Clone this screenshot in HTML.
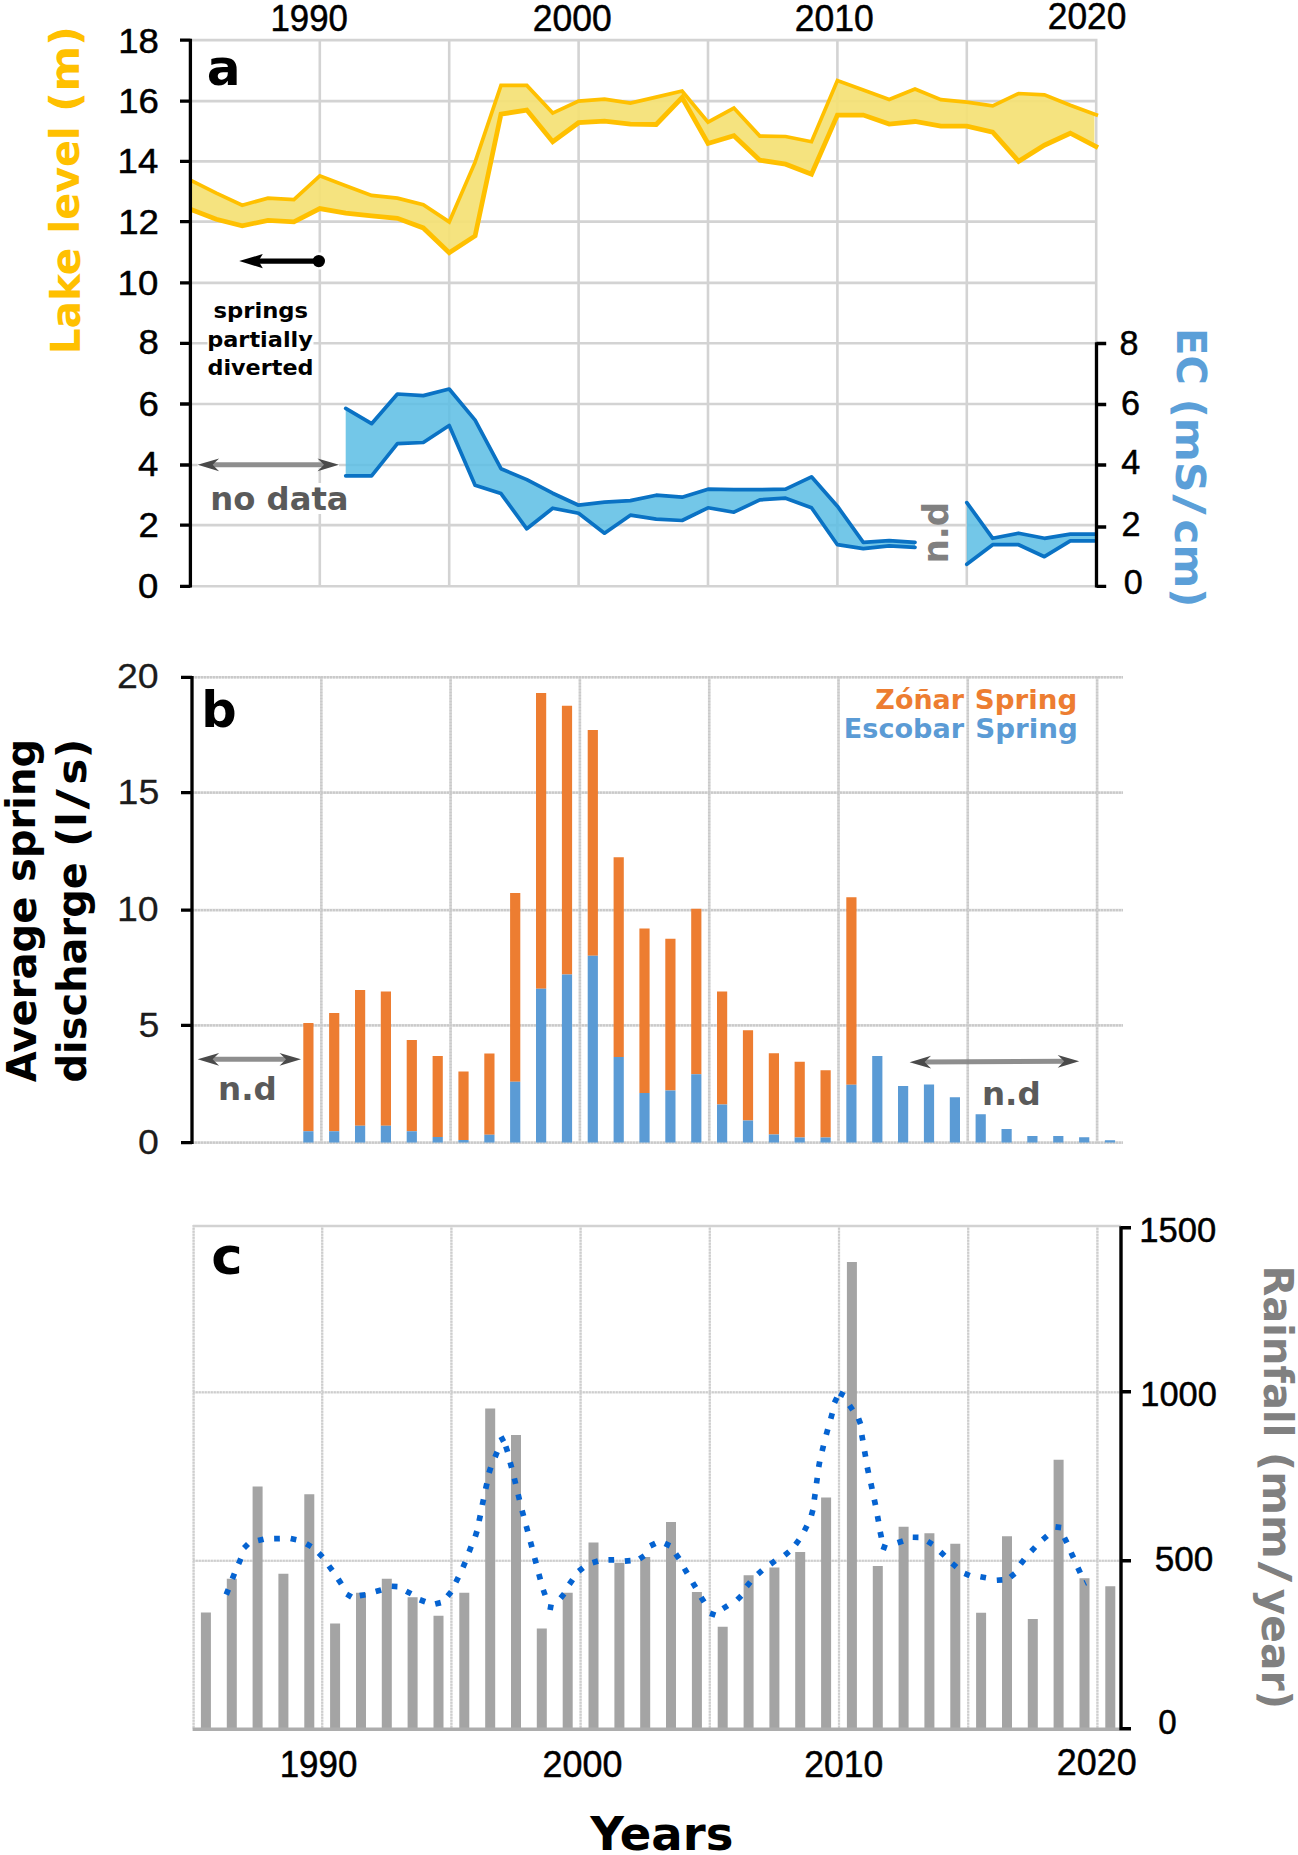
<!DOCTYPE html>
<html lang="en">
<head>
<meta charset="utf-8">
<title>Lake level, EC, spring discharge and rainfall 1985-2020</title>
<style>
html,body{margin:0;padding:0;background:#fff;}
body{width:1298px;height:1855px;overflow:hidden;}
svg{display:block;}
text{white-space:pre;}
</style>
</head>
<body>
<svg width="1298" height="1855" viewBox="0 0 1298 1855" role="img" aria-label="Lake level, electrical conductivity, spring discharge and rainfall, 1985-2020">
<rect width="1298" height="1855" fill="#fff"/>
<g id="panelA">
<path d="M190 586.3 H1097.5 M190 525.1 H1097.5 M190 465 H1097.5 M190 404 H1097.5 M190 343.3 H1097.5 M190 282.9 H1097.5 M190 221.6 H1097.5 M190 161.4 H1097.5 M190 101.1 H1097.5 M190 40.1 H1097.5 M319.8 39 V587 M449.2 39 V587 M578.6 39 V587 M708 39 V587 M837.4 39 V587 M966.8 39 V587 M1096.2 39 V587" stroke="#d3d3d3" stroke-width="2.6" fill="none"/>
<polygon points="190.4,180.2 216.3,193.2 242.2,205.2 268,198.2 293.9,199.6 319.8,175.8 345.7,185.8 371.6,195.4 397.4,198.2 423.3,204.8 449.2,221.9 475.1,162.2 501,85.4 526.8,85.4 552.7,113.1 578.6,101.1 604.5,99.1 630.4,103.1 656.2,97.1 682.1,91 708,122.1 733.9,108.1 759.8,136.1 785.6,136.5 811.5,141.7 837.4,80.6 863.3,90 889.2,99.5 915,89.1 940.9,99.6 966.8,102.2 992.7,105.8 1018.6,93.5 1044.4,94.8 1070.3,105.2 1094.4,114.1 1094.4,145.9 1070.3,133.2 1044.4,145.2 1018.6,161.3 992.7,132.2 966.8,126.2 940.9,126.2 915,121.5 889.2,124.1 863.3,115.1 837.4,115.1 811.5,174.2 785.6,164.2 759.8,160.2 733.9,135.7 708,143.5 682.1,97.5 656.2,124.5 630.4,124.1 604.5,121.1 578.6,122.7 552.7,141.7 526.8,110.1 501,114.1 475.1,235.9 449.2,252.7 423.3,227.9 397.4,218.3 371.6,215.9 345.7,213.2 319.8,208.6 293.9,221.9 268,220.3 242.2,225.9 216.3,219.3 190.4,209.2" fill="#f4e174" fill-opacity="0.92"/>
<polyline points="190.4,180.2 216.3,193.2 242.2,205.2 268,198.2 293.9,199.6 319.8,175.8 345.7,185.8 371.6,195.4 397.4,198.2 423.3,204.8 449.2,221.9 475.1,162.2 501,85.4 526.8,85.4 552.7,113.1 578.6,101.1 604.5,99.1 630.4,103.1 656.2,97.1 682.1,91 708,122.1 733.9,108.1 759.8,136.1 785.6,136.5 811.5,141.7 837.4,80.6 863.3,90 889.2,99.5 915,89.1 940.9,99.6 966.8,102.2 992.7,105.8 1018.6,93.5 1044.4,94.8 1070.3,105.2 1098,115.5" fill="none" stroke="#ffc000" stroke-width="3.7" stroke-linejoin="miter" stroke-linecap="butt"/>
<polyline points="190.4,209.2 216.3,219.3 242.2,225.9 268,220.3 293.9,221.9 319.8,208.6 345.7,213.2 371.6,215.9 397.4,218.3 423.3,227.9 449.2,252.7 475.1,235.9 501,114.1 526.8,110.1 552.7,141.7 578.6,122.7 604.5,121.1 630.4,124.1 656.2,124.5 682.1,97.5 708,143.5 733.9,135.7 759.8,160.2 785.6,164.2 811.5,174.2 837.4,115.1 863.3,115.1 889.2,124.1 915,121.5 940.9,126.2 966.8,126.2 992.7,132.2 1018.6,161.3 1044.4,145.2 1070.3,133.2 1098,147.7" fill="none" stroke="#ffc000" stroke-width="4.8" stroke-linejoin="miter" stroke-linecap="butt"/>
<polygon points="345.7,408.4 371.6,423.7 397.4,394 423.3,395.6 449.2,389 475.1,420.1 501,468.7 526.8,479.6 552.7,493.2 578.6,505.2 604.5,502.2 630.4,500.6 656.2,495.2 682.1,497.2 708,489.2 733.9,489.6 759.8,489.6 785.6,489.2 811.5,476.8 837.4,506.2 863.3,542.3 889.2,540.7 915,542.3 915,547.3 889.2,545.9 863.3,548.7 837.4,544.7 811.5,507.8 785.6,498.2 759.8,499.8 733.9,512.2 708,507.8 682.1,520.5 656.2,519.2 630.4,515.2 604.5,533.2 578.6,513.2 552.7,508.2 526.8,528.8 501,493.6 475.1,485.2 449.2,425.5 423.3,442.5 397.4,443.7 371.6,475.8 345.7,475.8" fill="#5bbde4" fill-opacity="0.85"/>
<polyline points="345.7,408.4 371.6,423.7 397.4,394 423.3,395.6 449.2,389 475.1,420.1 501,468.7 526.8,479.6 552.7,493.2 578.6,505.2 604.5,502.2 630.4,500.6 656.2,495.2 682.1,497.2 708,489.2 733.9,489.6 759.8,489.6 785.6,489.2 811.5,476.8 837.4,506.2 863.3,542.3 889.2,540.7 915,542.3" fill="none" stroke="#0a72c4" stroke-width="3.7" stroke-linejoin="round" stroke-linecap="round"/>
<polyline points="345.7,475.8 371.6,475.8 397.4,443.7 423.3,442.5 449.2,425.5 475.1,485.2 501,493.6 526.8,528.8 552.7,508.2 578.6,513.2 604.5,533.2 630.4,515.2 656.2,519.2 682.1,520.5 708,507.8 733.9,512.2 759.8,499.8 785.6,498.2 811.5,507.8 837.4,544.7 863.3,548.7 889.2,545.9 915,547.3" fill="none" stroke="#0a72c4" stroke-width="3.7" stroke-linejoin="round" stroke-linecap="round"/>
<polygon points="966.8,502.6 992.7,538.3 1018.6,533.2 1044.4,538.3 1070.3,534.2 1096.2,534.2 1096.2,540.9 1070.3,540.9 1044.4,556.7 1018.6,544.7 992.7,544.7 966.8,564.3" fill="#5bbde4" fill-opacity="0.85"/>
<polyline points="966.8,502.6 992.7,538.3 1018.6,533.2 1044.4,538.3 1070.3,534.2 1096.2,534.2" fill="none" stroke="#0a72c4" stroke-width="3.7" stroke-linejoin="round" stroke-linecap="round"/>
<polyline points="966.8,564.3 992.7,544.7 1018.6,544.7 1044.4,556.7 1070.3,540.9 1096.2,540.9" fill="none" stroke="#0a72c4" stroke-width="3.7" stroke-linejoin="round" stroke-linecap="round"/>
<path d="M190.4 38.7 V587.6 M180 586.3 H190.4 M180 525.1 H190.4 M180 465 H190.4 M180 404 H190.4 M180 343.3 H190.4 M180 282.9 H190.4 M180 221.6 H190.4 M180 161.4 H190.4 M180 101.1 H190.4 M180 40.1 H190.4" stroke="#000" stroke-width="3.3" fill="none"/>
<path d="M1096.5 342.2 V587.6 M1096.5 343.5 H1106.2 M1096.5 404.5 H1106.2 M1096.5 465 H1106.2 M1096.5 527 H1106.2 M1096.5 586.3 H1106.2" stroke="#000" stroke-width="3.3" fill="none"/>
<rect x="207.5" y="340" width="106" height="7" fill="#fff"/>
<rect x="315" y="252.5" width="10" height="17" fill="#fff"/>
<path d="M318.5 261.1 H254" stroke="#000" stroke-width="5.2" fill="none"/>
<circle cx="318.8" cy="261.1" r="6.2" fill="#000"/>
<path d="M239.2 261.1 L262.8 254 L258.5 261.1 L262.8 268.2 Z" fill="#000"/>
<rect x="197.6" y="461.8" width="141.4" height="6" fill="#fff"/>
<g transform="rotate(0 268.3 464.8)">
<path d="M210.6 464.8 H326" stroke="#858585" stroke-width="5.0" stroke-opacity="0.93" fill="none"/>
<path d="M197.6 464.8 L219.1 458.4 L212.6 464.8 L219.1 471.2 Z" fill="#4a4a4a"/>
<path d="M339 464.8 L317.5 458.4 L324 464.8 L317.5 471.2 Z" fill="#4a4a4a"/>
</g>
<rect x="206" y="483" width="145" height="31" fill="#fff"/>
</g>
<g id="panelB">
<path d="M192 1142.6 H1123 M192 1025.4 H1123 M192 910.1 H1123 M192 792.6 H1123 M192 677.3 H1123 M321.3 676.5 V1143.5 M450.6 676.5 V1143.5 M579.9 676.5 V1143.5 M709.2 676.5 V1143.5 M838.5 676.5 V1143.5 M967.8 676.5 V1143.5 M1097.1 676.5 V1143.5" stroke="#dedede" stroke-width="2.6" fill="none"/>
<path d="M192 1142.6 H1123 M192 1025.4 H1123 M192 910.1 H1123 M192 792.6 H1123 M192 677.3 H1123 M321.3 676.5 V1143.5 M450.6 676.5 V1143.5 M579.9 676.5 V1143.5 M709.2 676.5 V1143.5 M838.5 676.5 V1143.5 M967.8 676.5 V1143.5 M1097.1 676.5 V1143.5" stroke="#c9c9c9" stroke-width="2.4" stroke-dasharray="1.9 1.1" fill="none"/>
<path d="M303.3 1023.1 h10.2 V1131.3 h-10.2 Z M329.1 1013.1 h10.2 V1131.3 h-10.2 Z M355 990 h10.2 V1125.7 h-10.2 Z M380.8 991.5 h10.2 V1125.7 h-10.2 Z M406.7 1040.1 h10.2 V1131.3 h-10.2 Z M432.6 1056.1 h10.2 V1137 h-10.2 Z M458.4 1071.4 h10.2 V1140.1 h-10.2 Z M484.3 1053.4 h10.2 V1134.7 h-10.2 Z M510.1 893.1 h10.2 V1081.7 h-10.2 Z M536 692.9 h10.2 V988.7 h-10.2 Z M561.9 705.8 h10.2 V974.4 h-10.2 Z M587.7 730 h10.2 V955.8 h-10.2 Z M613.6 857.2 h10.2 V1056.9 h-10.2 Z M639.4 928.6 h10.2 V1093 h-10.2 Z M665.3 938.8 h10.2 V1090.4 h-10.2 Z M691.2 908.7 h10.2 V1074.3 h-10.2 Z M717 991.6 h10.2 V1104.4 h-10.2 Z M742.9 1030.3 h10.2 V1120.4 h-10.2 Z M768.8 1053.3 h10.2 V1134.4 h-10.2 Z M794.6 1061.7 h10.2 V1137.4 h-10.2 Z M820.5 1070.3 h10.2 V1137.4 h-10.2 Z M846.3 897.3 h10.2 V1084.8 h-10.2 Z" fill="#ed7d31"/>
<path d="M303.3 1131.3 h10.2 V1142.6 h-10.2 Z M329.1 1131.3 h10.2 V1142.6 h-10.2 Z M355 1125.7 h10.2 V1142.6 h-10.2 Z M380.8 1125.7 h10.2 V1142.6 h-10.2 Z M406.7 1131.3 h10.2 V1142.6 h-10.2 Z M432.6 1137 h10.2 V1142.6 h-10.2 Z M458.4 1140.1 h10.2 V1142.6 h-10.2 Z M484.3 1134.7 h10.2 V1142.6 h-10.2 Z M510.1 1081.7 h10.2 V1142.6 h-10.2 Z M536 988.7 h10.2 V1142.6 h-10.2 Z M561.9 974.4 h10.2 V1142.6 h-10.2 Z M587.7 955.8 h10.2 V1142.6 h-10.2 Z M613.6 1056.9 h10.2 V1142.6 h-10.2 Z M639.4 1093 h10.2 V1142.6 h-10.2 Z M665.3 1090.4 h10.2 V1142.6 h-10.2 Z M691.2 1074.3 h10.2 V1142.6 h-10.2 Z M717 1104.4 h10.2 V1142.6 h-10.2 Z M742.9 1120.4 h10.2 V1142.6 h-10.2 Z M768.8 1134.4 h10.2 V1142.6 h-10.2 Z M794.6 1137.4 h10.2 V1142.6 h-10.2 Z M820.5 1137.4 h10.2 V1142.6 h-10.2 Z M846.3 1084.8 h10.2 V1142.6 h-10.2 Z M872.2 1055.9 h10.2 V1142.6 h-10.2 Z M898 1086 h10.2 V1142.6 h-10.2 Z M923.9 1084.4 h10.2 V1142.6 h-10.2 Z M949.8 1097.2 h10.2 V1142.6 h-10.2 Z M975.6 1114.2 h10.2 V1142.6 h-10.2 Z M1001.5 1128.9 h10.2 V1142.6 h-10.2 Z M1027.3 1135.9 h10.2 V1142.6 h-10.2 Z M1053.2 1135.9 h10.2 V1142.6 h-10.2 Z M1079.1 1137.3 h10.2 V1142.6 h-10.2 Z M1104.9 1140.3 h10.2 V1142.6 h-10.2 Z" fill="#5b9bd5"/>
<path d="M192 676 V1144 M181 1142.6 H192 M181 1025.4 H192 M181 910.1 H192 M181 792.6 H192 M181 677.3 H192" stroke="#000" stroke-width="3.3" fill="none"/>
<g transform="rotate(0 249.3 1059.3)">
<path d="M210.6 1059.3 H288" stroke="#858585" stroke-width="5.0" stroke-opacity="0.93" fill="none"/>
<path d="M197.6 1059.3 L219.1 1052.9 L212.6 1059.3 L219.1 1065.7 Z" fill="#4a4a4a"/>
<path d="M301 1059.3 L279.5 1052.9 L286 1059.3 L279.5 1065.7 Z" fill="#4a4a4a"/>
</g>
<g transform="rotate(-0.338 994.4 1061.7)">
<path d="M922.6 1061.7 H1066.2" stroke="#858585" stroke-width="5.0" stroke-opacity="0.93" fill="none"/>
<path d="M909.6 1061.7 L931.1 1055.3 L924.6 1061.7 L931.1 1068.1 Z" fill="#4a4a4a"/>
<path d="M1079.2 1061.7 L1057.7 1055.3 L1064.2 1061.7 L1057.7 1068.1 Z" fill="#4a4a4a"/>
</g>
</g>
<g id="panelC">
<path d="M193 1560.8 H1121 M193 1392.3 H1121 M193.6 1225 V1729 M322.2 1225 V1729 M451.4 1225 V1729 M580.6 1225 V1729 M709.8 1225 V1729 M839 1225 V1729 M968.2 1225 V1729 M1097.4 1225 V1729" stroke="#e4e4e4" stroke-width="2.3" fill="none"/>
<path d="M193 1560.8 H1121 M193 1392.3 H1121 M193.6 1225 V1729 M322.2 1225 V1729 M451.4 1225 V1729 M580.6 1225 V1729 M709.8 1225 V1729 M839 1225 V1729 M968.2 1225 V1729 M1097.4 1225 V1729" stroke="#cdcdcd" stroke-width="2.1" stroke-dasharray="1.8 1.2" fill="none"/>
<path d="M193 1226 H1121" stroke="#d2d2d2" stroke-width="2.5" fill="none"/>
<path d="M200.9 1612.6 h10 V1728.8 h-10 Z M226.8 1578.7 h10 V1728.8 h-10 Z M252.6 1486.5 h10 V1728.8 h-10 Z M278.4 1573.8 h10 V1728.8 h-10 Z M304.3 1494.3 h10 V1728.8 h-10 Z M330.1 1623.5 h10 V1728.8 h-10 Z M356 1592.7 h10 V1728.8 h-10 Z M381.8 1578.7 h10 V1728.8 h-10 Z M407.6 1597.3 h10 V1728.8 h-10 Z M433.5 1615.8 h10 V1728.8 h-10 Z M459.3 1592.7 h10 V1728.8 h-10 Z M485.2 1408.6 h10 V1728.8 h-10 Z M511 1435.1 h10 V1728.8 h-10 Z M536.8 1628.4 h10 V1728.8 h-10 Z M562.7 1592.7 h10 V1728.8 h-10 Z M588.5 1542.6 h10 V1728.8 h-10 Z M614.4 1562.7 h10 V1728.8 h-10 Z M640.2 1556.9 h10 V1728.8 h-10 Z M666 1522.1 h10 V1728.8 h-10 Z M691.9 1592.1 h10 V1728.8 h-10 Z M717.7 1626.8 h10 V1728.8 h-10 Z M743.6 1575.3 h10 V1728.8 h-10 Z M769.4 1567.4 h10 V1728.8 h-10 Z M795.2 1552 h10 V1728.8 h-10 Z M821.1 1497.4 h10 V1728.8 h-10 Z M846.9 1262 h10 V1728.8 h-10 Z M872.8 1566 h10 V1728.8 h-10 Z M898.6 1526.7 h10 V1728.8 h-10 Z M924.4 1533.2 h10 V1728.8 h-10 Z M950.3 1543.8 h10 V1728.8 h-10 Z M976.1 1612.7 h10 V1728.8 h-10 Z M1002 1536.2 h10 V1728.8 h-10 Z M1027.8 1619 h10 V1728.8 h-10 Z M1053.6 1459.7 h10 V1728.8 h-10 Z M1079.5 1578.3 h10 V1728.8 h-10 Z M1105.3 1586.3 h10 V1728.8 h-10 Z" fill="#a4a4a4"/>
<path d="M192.6 1729.3 H1121" stroke="#adadad" stroke-width="3.6" fill="none"/>
<path d="M223.6 1593.6 L225.7 1588.3 L231 1590.4 L228.9 1595.7 Z M229.7 1577.8 L231.8 1572.5 L237.1 1574.6 L235 1579.9 Z M236 1562.7 L238.2 1557.5 L243.4 1559.7 L241.2 1564.9 Z M242 1545.9 L246 1541.9 L250 1545.9 L246 1549.9 Z M257.4 1537.8 L262.9 1536.5 L264.2 1542 L258.7 1543.3 Z M274.1 1535.8 L279.8 1535.7 L279.9 1541.4 L274.2 1541.5 Z M291.3 1535.7 L296.9 1536.9 L295.7 1542.5 L290.1 1541.3 Z M307.8 1541.3 L312.7 1544.2 L309.8 1549.1 L304.9 1546.2 Z M320.8 1551.1 L324.7 1555.2 L320.6 1559.1 L316.7 1555 Z M331.2 1564.2 L334.6 1568.8 L330 1572.2 L326.6 1567.6 Z M340.6 1577.6 L343.8 1582.4 L339 1585.6 L335.8 1580.8 Z M348.1 1591.7 L353 1594.6 L350.1 1599.5 L345.2 1596.6 Z M359.3 1592.8 L365 1591.9 L365.9 1597.6 L360.2 1598.5 Z M374.9 1588.8 L380.4 1587.3 L381.9 1592.8 L376.4 1594.3 Z M391.9 1583.4 L397.6 1583.7 L397.3 1589.4 L391.6 1589.1 Z M407.5 1588.7 L412.5 1591.3 L409.9 1596.3 L404.9 1593.7 Z M420.8 1597 L426.2 1599 L424.2 1604.4 L418.8 1602.4 Z M434.5 1601.2 L440.1 1599.8 L441.5 1605.4 L435.9 1606.8 Z M445.4 1594.3 L449 1589.9 L453.4 1593.5 L449.8 1597.9 Z M453.3 1581 L455.8 1575.9 L460.9 1578.4 L458.4 1583.5 Z M460.4 1566.2 L462.6 1561 L467.8 1563.2 L465.6 1568.4 Z M466.4 1550.8 L468.5 1545.5 L473.8 1547.6 L471.7 1552.9 Z M472.5 1535.7 L474.2 1530.2 L479.7 1531.9 L478 1537.4 Z M476.3 1520.4 L477.5 1514.8 L483.1 1516 L481.9 1521.6 Z M479.5 1504.4 L480.7 1498.8 L486.3 1500 L485.1 1505.6 Z M482.9 1488.3 L484.1 1482.7 L489.7 1483.9 L488.5 1489.5 Z M486.3 1472 L488 1466.5 L493.5 1468.2 L491.8 1473.7 Z M492.4 1456.1 L494.5 1450.8 L499.8 1452.9 L497.7 1458.2 Z M498.5 1437.9 L503.5 1435.3 L506.1 1440.3 L501.1 1442.9 Z M508.5 1445.5 L510.3 1450.9 L504.9 1452.7 L503.1 1447.3 Z M512.9 1461.6 L514.4 1467.1 L508.9 1468.6 L507.4 1463.1 Z M517.1 1477.7 L518.4 1483.2 L512.9 1484.5 L511.6 1479 Z M520.9 1493.8 L522.2 1499.3 L516.7 1500.6 L515.4 1495.1 Z M524.8 1509.7 L526.3 1515.2 L520.8 1516.7 L519.3 1511.2 Z M529 1525.3 L530.5 1530.8 L525 1532.3 L523.5 1526.8 Z M533.2 1541.1 L534.7 1546.6 L529.2 1548.1 L527.7 1542.6 Z M537.4 1557.2 L538.9 1562.7 L533.4 1564.2 L531.9 1558.7 Z M541.6 1573.2 L543.1 1578.7 L537.6 1580.2 L536.1 1574.7 Z M545.9 1588.9 L547.8 1594.2 L542.5 1596.1 L540.6 1590.8 Z M548.3 1604 L553.9 1605 L552.9 1610.6 L547.3 1609.6 Z M558.4 1596.3 L562 1591.9 L566.4 1595.5 L562.8 1599.9 Z M567 1582.6 L570.3 1577.9 L575 1581.2 L571.7 1585.9 Z M576.9 1569.1 L581.3 1565.5 L584.9 1569.9 L580.5 1573.5 Z M591.7 1560 L597.2 1558.3 L598.9 1563.8 L593.4 1565.5 Z M608.4 1557.1 L614.1 1557 L614.2 1562.7 L608.5 1562.8 Z M624.6 1558.3 L630.3 1557.8 L630.8 1563.5 L625.1 1564 Z M638 1556.5 L642.7 1553.4 L645.8 1558.1 L641.1 1561.2 Z M649 1543.3 L654.1 1540.8 L656.6 1545.9 L651.5 1548.4 Z M666 1540.8 L671.2 1543.2 L668.8 1548.4 L663.6 1546 Z M678.1 1552.2 L681.4 1556.9 L676.7 1560.2 L673.4 1555.5 Z M686.8 1566.9 L689.7 1571.8 L684.8 1574.7 L681.9 1569.8 Z M695.2 1581.2 L698.1 1586.1 L693.2 1589 L690.3 1584.1 Z M703.5 1595.8 L706.5 1600.6 L701.7 1603.6 L698.7 1598.8 Z M710.9 1610.6 L716.3 1612.4 L714.5 1617.8 L709.1 1616 Z M721.4 1606.3 L726.2 1603.3 L729.2 1608.1 L724.4 1611.1 Z M735.3 1597.7 L739.3 1593.7 L743.3 1597.7 L739.3 1601.7 Z M744.5 1584.6 L748.1 1580.2 L752.5 1583.8 L748.9 1588.2 Z M756 1572 L760.2 1568.2 L764 1572.4 L759.8 1576.2 Z M768.9 1561.7 L773.6 1558.4 L776.9 1563.1 L772.2 1566.4 Z M782.9 1553 L787.3 1549.4 L790.9 1553.8 L786.5 1557.4 Z M793.3 1542.8 L796.7 1538.2 L801.3 1541.6 L797.9 1546.2 Z M801.9 1529.5 L804.4 1524.4 L809.5 1526.9 L807 1532 Z M808.6 1514.8 L810.1 1509.3 L815.6 1510.8 L814.1 1516.3 Z M811.5 1499.2 L812.3 1493.6 L817.9 1494.4 L817.1 1500 Z M813.7 1483 L814.5 1477.4 L820.1 1478.2 L819.3 1483.8 Z M815.9 1466.6 L816.9 1461 L822.5 1462 L821.5 1467.6 Z M819.4 1450.5 L820.7 1445 L826.2 1446.3 L824.9 1451.8 Z M823.5 1434.1 L825 1428.6 L830.5 1430.1 L829 1435.6 Z M828 1418.1 L829.5 1412.6 L835 1414.1 L833.5 1419.6 Z M831.9 1401.6 L834.3 1396.4 L839.5 1398.8 L837.1 1404 Z M840.5 1390.5 L845.6 1393 L843.1 1398.1 L838 1395.6 Z M851.9 1403.8 L855 1408.5 L850.3 1411.6 L847.2 1406.9 Z M861.2 1417.5 L863.2 1422.9 L857.8 1424.9 L855.8 1419.5 Z M864.6 1434.4 L865.6 1440 L860 1441 L859 1435.4 Z M867.4 1450.7 L868.4 1456.3 L862.8 1457.3 L861.8 1451.7 Z M870.1 1466.8 L871.3 1472.4 L865.7 1473.6 L864.5 1468 Z M873.7 1482.8 L874.9 1488.4 L869.3 1489.6 L868.1 1484 Z M877.1 1499 L878.3 1504.6 L872.7 1505.8 L871.5 1500.2 Z M880.3 1515.4 L881.3 1521 L875.7 1522 L874.7 1516.4 Z M883 1531.3 L884.2 1536.9 L878.6 1538.1 L877.4 1532.5 Z M882.5 1543.6 L887.9 1545.6 L885.9 1551 L880.5 1549 Z M896.7 1539.9 L902.2 1538.2 L903.9 1543.7 L898.4 1545.4 Z M912.8 1534.4 L918.5 1534.5 L918.4 1540.2 L912.7 1540.1 Z M929.2 1538.9 L934 1541.9 L931 1546.7 L926.2 1543.7 Z M942.4 1549.8 L946.5 1553.7 L942.6 1557.8 L938.5 1553.9 Z M954 1561.3 L958.3 1565 L954.6 1569.3 L950.3 1565.6 Z M965.6 1570.8 L970.8 1573 L968.6 1578.2 L963.4 1576 Z M980.9 1574 L986.5 1575 L985.5 1580.6 L979.9 1579.6 Z M996.6 1577.5 L1002.2 1577.1 L1002.6 1582.7 L997 1583.1 Z M1008.6 1574.9 L1013 1571.3 L1016.6 1575.7 L1012.2 1579.3 Z M1018.4 1562.2 L1021.9 1557.7 L1026.4 1561.2 L1022.9 1565.7 Z M1029.2 1549.3 L1033.1 1545.2 L1037.2 1549.1 L1033.3 1553.2 Z M1040.9 1537.5 L1045.2 1533.8 L1048.9 1538.1 L1044.6 1541.8 Z M1055.8 1524 L1061.5 1524.7 L1060.8 1530.4 L1055.1 1529.7 Z M1067 1536.4 L1069.5 1541.5 L1064.4 1544 L1061.9 1538.9 Z M1073.7 1551.4 L1076.1 1556.6 L1070.9 1559 L1068.5 1553.8 Z M1080.5 1566.5 L1082.9 1571.7 L1077.7 1574.1 L1075.3 1568.9 Z M1084.6 1580.1 L1087.1 1585.2 L1086 1585.7 L1083.5 1580.6 Z" fill="#0563d1"/>
<path d="M1121 1226.3 V1730.3 M1121 1227.8 H1131 M1121 1391.7 H1131 M1121 1560.8 H1131 M1121 1728.8 H1131" stroke="#000" stroke-width="3.4" fill="none"/>
</g>
<g id="labels">
<text transform="translate(137.89 598) scale(1.03 1)" font-family='"Liberation Sans","DejaVu Sans",sans-serif' font-size="35.48" stroke="#000" stroke-width="0.5" stroke-linejoin="round">0</text>
<text transform="translate(138.46 536.8) scale(1.03 1)" font-family='"Liberation Sans","DejaVu Sans",sans-serif' font-size="35.48" stroke="#000" stroke-width="0.5" stroke-linejoin="round">2</text>
<text transform="translate(137.89 476.1) scale(1.03 1)" font-family='"Liberation Sans","DejaVu Sans",sans-serif' font-size="35.48" stroke="#000" stroke-width="0.5" stroke-linejoin="round">4</text>
<text transform="translate(138.46 415.7) scale(1.03 1)" font-family='"Liberation Sans","DejaVu Sans",sans-serif' font-size="35.48" stroke="#000" stroke-width="0.5" stroke-linejoin="round">6</text>
<text transform="translate(138.46 354.3) scale(1.03 1)" font-family='"Liberation Sans","DejaVu Sans",sans-serif' font-size="35.48" stroke="#000" stroke-width="0.5" stroke-linejoin="round">8</text>
<text transform="translate(117.56 294.6) scale(1.03 1)" font-family='"Liberation Sans","DejaVu Sans",sans-serif' font-size="35.48" stroke="#000" stroke-width="0.5" stroke-linejoin="round">10</text>
<text transform="translate(118.13 233.7) scale(1.03 1)" font-family='"Liberation Sans","DejaVu Sans",sans-serif' font-size="35.48" stroke="#000" stroke-width="0.5" stroke-linejoin="round">12</text>
<text transform="translate(117.56 173.1) scale(1.03 1)" font-family='"Liberation Sans","DejaVu Sans",sans-serif' font-size="35.48" stroke="#000" stroke-width="0.5" stroke-linejoin="round">14</text>
<text transform="translate(118.13 112.8) scale(1.03 1)" font-family='"Liberation Sans","DejaVu Sans",sans-serif' font-size="35.48" stroke="#000" stroke-width="0.5" stroke-linejoin="round">16</text>
<text transform="translate(118.13 52.6) scale(1.03 1)" font-family='"Liberation Sans","DejaVu Sans",sans-serif' font-size="35.48" stroke="#000" stroke-width="0.5" stroke-linejoin="round">18</text>
<text transform="translate(1119.43 354.8) scale(0.97 1)" font-family='"Liberation Sans","DejaVu Sans",sans-serif' font-size="35.2" stroke="#000" stroke-width="0.5" stroke-linejoin="round">8</text>
<text transform="translate(1121 414.6) scale(0.97 1)" font-family='"Liberation Sans","DejaVu Sans",sans-serif' font-size="35.2" stroke="#000" stroke-width="0.5" stroke-linejoin="round">6</text>
<text transform="translate(1121.27 474.2) scale(0.97 1)" font-family='"Liberation Sans","DejaVu Sans",sans-serif' font-size="35.2" stroke="#000" stroke-width="0.5" stroke-linejoin="round">4</text>
<text transform="translate(1121.5 536.2) scale(0.97 1)" font-family='"Liberation Sans","DejaVu Sans",sans-serif' font-size="35.2" stroke="#000" stroke-width="0.5" stroke-linejoin="round">2</text>
<text transform="translate(1123.73 593.7) scale(0.97 1)" font-family='"Liberation Sans","DejaVu Sans",sans-serif' font-size="35.2" stroke="#000" stroke-width="0.5" stroke-linejoin="round">0</text>
<text transform="translate(270.52 30.77) scale(0.9442 1)" font-family='"Liberation Sans","DejaVu Sans",sans-serif' font-size="36.87" stroke="#000" stroke-width="0.5" stroke-linejoin="round">1990</text>
<text transform="translate(532.84 30.97) scale(0.9625 1)" font-family='"Liberation Sans","DejaVu Sans",sans-serif' font-size="36.87" stroke="#000" stroke-width="0.5" stroke-linejoin="round">2000</text>
<text transform="translate(794.63 30.77) scale(0.9638 1)" font-family='"Liberation Sans","DejaVu Sans",sans-serif' font-size="36.87" stroke="#000" stroke-width="0.5" stroke-linejoin="round">2010</text>
<text transform="translate(1047.74 29.37) scale(0.9588 1)" font-family='"Liberation Sans","DejaVu Sans",sans-serif' font-size="36.87" stroke="#000" stroke-width="0.5" stroke-linejoin="round">2020</text>
<text transform="translate(206.63 85.15) scale(1.0095 1)" font-family='"DejaVu Sans","Liberation Sans",sans-serif' font-weight="bold" font-size="49.69">a</text>
<text transform="rotate(-90)" font-family='"DejaVu Sans","Liberation Sans",sans-serif' font-weight="bold" font-size="40.9" fill="#ffc000"><tspan x="-354.37" y="79.6" textLength="106.7" lengthAdjust="spacingAndGlyphs">Lake</tspan> <tspan x="-233.41" y="79.3" textLength="107.07" lengthAdjust="spacingAndGlyphs">level</tspan> <tspan x="-111.94" y="79" textLength="86.15" lengthAdjust="spacingAndGlyphs">(m)</tspan></text>
<text transform="rotate(90)" font-family='"DejaVu Sans","Liberation Sans",sans-serif' font-weight="bold" font-size="40.8" fill="#5b9fd8"><tspan x="328.07" y="-1177" textLength="56.71" lengthAdjust="spacingAndGlyphs">EC</tspan> <tspan x="398.49" y="-1176.3" textLength="94.02" lengthAdjust="spacingAndGlyphs">(mS</tspan><tspan x="494.2" y="-1175.8" textLength="20.55" lengthAdjust="spacingAndGlyphs">/</tspan><tspan x="519.59" y="-1175.3" textLength="87.86" lengthAdjust="spacingAndGlyphs">cm)</tspan></text>
<text transform="translate(213.44 317.95) scale(1.1041 1)" font-family='"DejaVu Sans","Liberation Sans",sans-serif' font-weight="bold" font-size="20.57">springs</text>
<text transform="translate(207.15 346.85) scale(1.0569 1)" font-family='"DejaVu Sans","Liberation Sans",sans-serif' font-weight="bold" font-size="21.22">partially</text>
<text transform="translate(207.5 375.15) scale(1.0578 1)" font-family='"DejaVu Sans","Liberation Sans",sans-serif' font-weight="bold" font-size="21.09">diverted</text>
<text transform="translate(210.18 509.85) scale(0.9941 1)" font-family='"DejaVu Sans","Liberation Sans",sans-serif' font-weight="bold" font-size="32.46" fill="#5a5a5a">no data</text>
<text transform="translate(948.25 563.57) rotate(-90) scale(0.9756 1)" font-family='"DejaVu Sans","Liberation Sans",sans-serif' font-weight="bold" font-size="35.07" fill="#808080">n.d</text>
<text transform="translate(137.89 1153.77) scale(1.06 1)" font-family='"Liberation Sans","DejaVu Sans",sans-serif' font-size="35.41" fill="#1c1c1c" stroke="#1c1c1c" stroke-width="0.25" stroke-linejoin="round">0</text>
<text transform="translate(138.47 1036.57) scale(1.06 1)" font-family='"Liberation Sans","DejaVu Sans",sans-serif' font-size="35.41" fill="#1c1c1c" stroke="#1c1c1c" stroke-width="0.25" stroke-linejoin="round">5</text>
<text transform="translate(117.01 921.27) scale(1.06 1)" font-family='"Liberation Sans","DejaVu Sans",sans-serif' font-size="35.41" fill="#1c1c1c" stroke="#1c1c1c" stroke-width="0.25" stroke-linejoin="round">10</text>
<text transform="translate(117.6 803.77) scale(1.06 1)" font-family='"Liberation Sans","DejaVu Sans",sans-serif' font-size="35.41" fill="#1c1c1c" stroke="#1c1c1c" stroke-width="0.25" stroke-linejoin="round">15</text>
<text transform="translate(117.01 688.47) scale(1.06 1)" font-family='"Liberation Sans","DejaVu Sans",sans-serif' font-size="35.41" fill="#1c1c1c" stroke="#1c1c1c" stroke-width="0.25" stroke-linejoin="round">20</text>
<text transform="translate(201.13 727.35) scale(0.9783 1)" font-family='"DejaVu Sans","Liberation Sans",sans-serif' font-weight="bold" font-size="50.61">b</text>
<text transform="rotate(-90)" font-family='"DejaVu Sans","Liberation Sans",sans-serif' font-weight="bold" font-size="41"><tspan x="-1082.2" y="36.1" textLength="185.71" lengthAdjust="spacingAndGlyphs">Average</tspan> <tspan x="-881.88" y="35.4" textLength="143.09" lengthAdjust="spacingAndGlyphs">spring</tspan></text>
<text transform="rotate(-90)" font-family='"DejaVu Sans","Liberation Sans",sans-serif' font-weight="bold" font-size="40.9"><tspan x="-1082.45" y="86.2" textLength="220.25" lengthAdjust="spacingAndGlyphs">discharge</tspan> <tspan x="-847.12" y="86.2" textLength="34.99" lengthAdjust="spacingAndGlyphs">(l</tspan><tspan x="-809.4" y="86.2" textLength="20.45" lengthAdjust="spacingAndGlyphs">/</tspan><tspan x="-784.76" y="86.2" textLength="46.27" lengthAdjust="spacingAndGlyphs">s)</tspan></text>
<text font-family='"DejaVu Sans","Liberation Sans",sans-serif' font-weight="bold" font-size="26.3" fill="#ed7d31"><tspan x="875.36" y="709.3" textLength="88.66" lengthAdjust="spacingAndGlyphs">Zóñar</tspan> <tspan x="974.87" y="709.3" textLength="102.41" lengthAdjust="spacingAndGlyphs">Spring</tspan></text>
<text font-family='"DejaVu Sans","Liberation Sans",sans-serif' font-weight="bold" font-size="26.3" fill="#5b9bd5"><tspan x="843.79" y="737.7" textLength="120.23" lengthAdjust="spacingAndGlyphs">Escobar</tspan> <tspan x="975.27" y="737.7" textLength="102.52" lengthAdjust="spacingAndGlyphs">Spring</tspan></text>
<text transform="translate(218.05 1100.35) scale(1.0287 1)" font-family='"DejaVu Sans","Liberation Sans",sans-serif' font-weight="bold" font-size="31.67" fill="#5a5a5a">n.d</text>
<text transform="translate(981.96 1105.45) scale(1.031 1)" font-family='"DejaVu Sans","Liberation Sans",sans-serif' font-weight="bold" font-size="31.54" fill="#5a5a5a">n.d</text>
<text transform="translate(1139.14 1241.64) scale(0.9721 1)" font-family='"Liberation Sans","DejaVu Sans",sans-serif' font-size="35.62" stroke="#000" stroke-width="0.5" stroke-linejoin="round">1500</text>
<text transform="translate(1140.35 1405.94) scale(0.9656 1)" font-family='"Liberation Sans","DejaVu Sans",sans-serif' font-size="35.62" stroke="#000" stroke-width="0.5" stroke-linejoin="round">1000</text>
<text transform="translate(1154.7 1571.24) scale(0.9856 1)" font-family='"Liberation Sans","DejaVu Sans",sans-serif' font-size="35.62" stroke="#000" stroke-width="0.5" stroke-linejoin="round">500</text>
<text transform="translate(1158.36 1733.94) scale(0.9321 1)" font-family='"Liberation Sans","DejaVu Sans",sans-serif' font-size="35.62" stroke="#000" stroke-width="0.5" stroke-linejoin="round">0</text>
<text transform="translate(279.72 1776.93) scale(0.9576 1)" font-family='"Liberation Sans","DejaVu Sans",sans-serif' font-size="36.45" stroke="#000" stroke-width="0.5" stroke-linejoin="round">1990</text>
<text transform="translate(542.52 1776.93) scale(0.985 1)" font-family='"Liberation Sans","DejaVu Sans",sans-serif' font-size="36.45" stroke="#000" stroke-width="0.5" stroke-linejoin="round">2000</text>
<text transform="translate(804.34 1776.93) scale(0.9736 1)" font-family='"Liberation Sans","DejaVu Sans",sans-serif' font-size="36.45" stroke="#000" stroke-width="0.5" stroke-linejoin="round">2010</text>
<text transform="translate(1056.82 1775.13) scale(0.985 1)" font-family='"Liberation Sans","DejaVu Sans",sans-serif' font-size="36.45" stroke="#000" stroke-width="0.5" stroke-linejoin="round">2020</text>
<text transform="translate(211.34 1274.15) scale(1.0262 1)" font-family='"DejaVu Sans","Liberation Sans",sans-serif' font-weight="bold" font-size="51.64">c</text>
<text transform="rotate(90)" font-family='"DejaVu Sans","Liberation Sans",sans-serif' font-weight="bold" font-size="40.2" fill="#808080"><tspan x="1265.47" y="-1263.6" textLength="171.92" lengthAdjust="spacingAndGlyphs">Rainfall</tspan> <tspan x="1452.02" y="-1262.6" textLength="106.65" lengthAdjust="spacingAndGlyphs">(mm</tspan><tspan x="1561.6" y="-1262.2" textLength="20.65" lengthAdjust="spacingAndGlyphs">/</tspan><tspan x="1588.8" y="-1261.6" textLength="120.34" lengthAdjust="spacingAndGlyphs">year)</tspan></text>
<text transform="translate(590.23 1849.95) scale(1.0107 1)" font-family='"DejaVu Sans","Liberation Sans",sans-serif' font-weight="bold" font-size="46.09">Years</text>
</g>
</svg>
</body>
</html>
